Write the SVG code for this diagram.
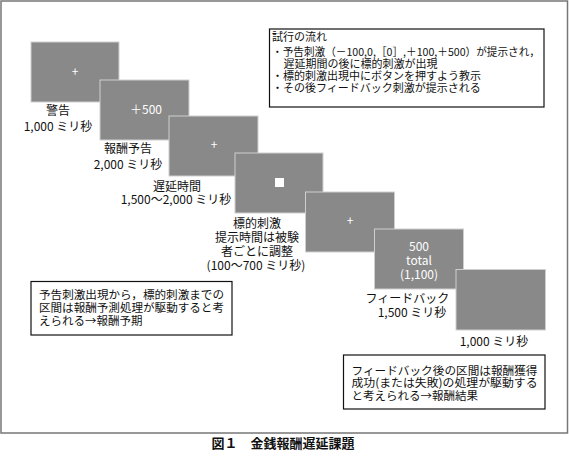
<svg xmlns="http://www.w3.org/2000/svg" width="569" height="457" viewBox="0 0 569 457">
<style>
text{font-family:"Noto Sans CJK JP","Noto Sans",sans-serif;fill:#111;}
.lbl{font-size:12px;text-anchor:middle;}
.box{fill:#fff;stroke:#111;stroke-width:1.2;}
.scr{fill:#898989;stroke:#cfcfcf;stroke-width:1;}
.w{fill:#fff;text-anchor:middle;font-size:12px;}
.bt{font-size:11.5px;}
.tt{font-size:11px;}
</style>
<rect x="1" y="1" width="566.5" height="432" fill="#fff" stroke="#777" stroke-width="1.5"/>
<g id="connectors"></g>
<g id="warning">
<rect class="scr" x="31" y="42" width="88" height="60"/>
<text class="w" x="75" y="76">+</text>
<text class="lbl" x="58" y="115">警告</text>
<text class="lbl" x="58" y="131">1,000 ミリ秒</text>
</g>
<g id="cue">
<rect class="scr" x="100" y="80" width="89" height="60"/>
<text class="w" x="146" y="113.5">＋500</text>
<text class="lbl" x="128" y="153">報酬予告</text>
<text class="lbl" x="128" y="169">2,000 ミリ秒</text>
</g>
<g id="delay">
<rect class="scr" x="169" y="116" width="89" height="60"/>
<text class="w" x="214" y="149">+</text>
<text class="lbl" x="177" y="191">遅延時間</text>
<text class="lbl" x="176" y="204">1,500～2,000 ミリ秒</text>
</g>
<g id="target">
<rect class="scr" x="235" y="153" width="88" height="60"/>
<rect x="275" y="178" width="9" height="9" fill="#fff"/>
<text class="lbl" x="257" y="228">標的刺激</text>
<text class="lbl" x="257" y="242">提示時間は被験</text>
<text class="lbl" x="257" y="256">者ごとに調整</text>
<text class="lbl" x="256" y="270">(100～700 ミリ秒)</text>
</g>
<g id="post">
<rect class="scr" x="305.5" y="192" width="89" height="60"/>
<text class="w" x="350" y="225">+</text>
</g>
<g id="feedback">
<rect class="scr" x="374.5" y="229" width="89" height="60"/>
<text class="w" x="419" y="251">500</text>
<text class="w" x="419" y="265">total</text>
<text class="w" x="419" y="279">(1,100)</text>
<text class="lbl" x="407.5" y="303">フィードバック</text>
<text class="lbl" x="412" y="317">1,500 ミリ秒</text>
</g>
<g id="iti">
<rect class="scr" x="456" y="269.5" width="89.5" height="60.5"/>
<text class="lbl" x="494" y="345.5">1,000 ミリ秒</text>
</g>
<g id="flow">
<rect class="box" x="269.5" y="29" width="274.5" height="78"/>
<text class="tt" x="272" y="41">試行の流れ</text>
<text class="tt" x="272" y="55.5" textLength="268" lengthAdjust="spacingAndGlyphs">・予告刺激（－100,0,［0］,＋100,＋500）が提示され，</text>
<text class="tt" x="283.5" y="67.5">遅延期間の後に標的刺激が出現</text>
<text class="tt" x="272" y="79.5">・標的刺激出現中にボタンを押すよう教示</text>
<text class="tt" x="272" y="91.5">・その後フィードバック刺激が提示される</text>
</g>
<g id="anticipation">
<rect class="box" x="31" y="281.5" width="201" height="53.5"/>
<text class="bt" x="39" y="299" textLength="185" lengthAdjust="spacingAndGlyphs">予告刺激出現から，標的刺激までの</text>
<text class="bt" x="39" y="311.5" textLength="185" lengthAdjust="spacingAndGlyphs">区間は報酬予測処理が駆動すると考</text>
<text class="bt" x="39" y="324.5">えられる→報酬予期</text>
</g>
<g id="outcome">
<rect class="box" x="343.5" y="355" width="201.5" height="54"/>
<text class="bt" x="351.5" y="374.5" textLength="186" lengthAdjust="spacingAndGlyphs">フィードバック後の区間は報酬獲得</text>
<text class="bt" x="351.5" y="387" textLength="186" lengthAdjust="spacingAndGlyphs">成功(または失敗)の処理が駆動する</text>
<text class="bt" x="351.5" y="399.5">と考えられる→報酬結果</text>
</g>
<text x="283" y="448" style="font-size:13px;font-weight:bold;text-anchor:middle;">図１　金銭報酬遅延課題</text>
</svg>
